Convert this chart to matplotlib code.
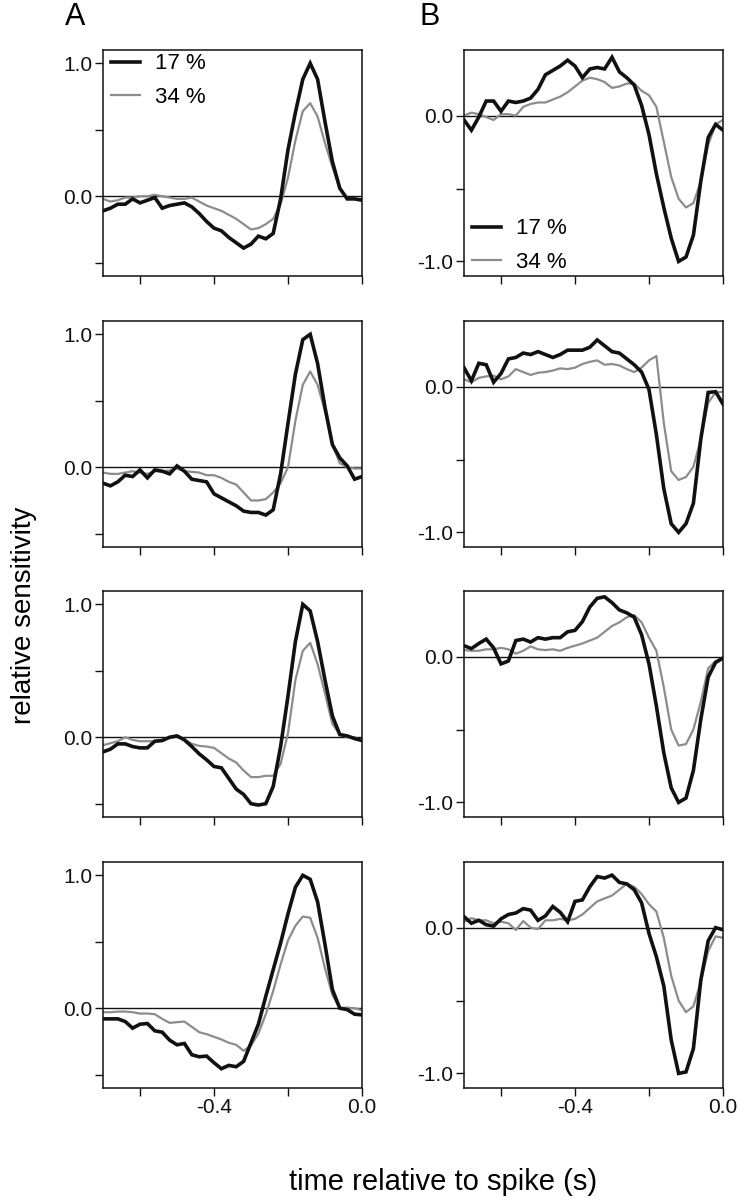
import numpy as np
import matplotlib
matplotlib.use('Agg')
import matplotlib.pyplot as plt

plt.rcParams['font.family'] = ['Liberation Sans', 'DejaVu Sans']

# time axis (s), 20 ms bins
t = np.round(np.arange(36) * 0.02 - 0.70, 2)

# column A (ON-type), rows 1-4
a1_17 = [-0.11, -0.09, -0.06, -0.06, -0.02, -0.05, -0.03, -0.01, -0.09, -0.07, -0.06, -0.05,
         -0.08, -0.13, -0.19, -0.24, -0.26, -0.31, -0.35, -0.39, -0.36, -0.30, -0.32, -0.28,
         -0.02, 0.35, 0.63, 0.88, 1.00, 0.88, 0.56, 0.26, 0.06, -0.02, -0.02, -0.03]
a1_34 = [-0.02, -0.04, -0.03, -0.01, -0.01, 0.00, 0.00, 0.01, 0.00, -0.01, -0.02, -0.02,
         -0.01, -0.04, -0.07, -0.09, -0.11, -0.14, -0.17, -0.21, -0.25, -0.24, -0.21, -0.17,
         -0.06, 0.14, 0.42, 0.64, 0.70, 0.60, 0.40, 0.22, 0.06, -0.02, -0.02, -0.02]
a2_17 = [-0.12, -0.14, -0.11, -0.06, -0.07, -0.02, -0.08, -0.02, -0.03, -0.05, 0.01, -0.03,
         -0.09, -0.10, -0.11, -0.20, -0.23, -0.26, -0.29, -0.33, -0.34, -0.34, -0.36, -0.32,
         -0.05, 0.33, 0.70, 0.96, 1.00, 0.78, 0.45, 0.17, 0.07, 0.01, -0.09, -0.07]
a2_34 = [-0.04, -0.05, -0.05, -0.04, -0.03, -0.04, -0.05, -0.03, -0.03, -0.025, -0.01, -0.03,
         -0.035, -0.04, -0.06, -0.06, -0.08, -0.11, -0.13, -0.19, -0.25, -0.25, -0.24, -0.19,
         -0.12, 0.00, 0.35, 0.62, 0.72, 0.62, 0.42, 0.17, 0.03, 0.00, -0.01, -0.01]
a3_17 = [-0.11, -0.09, -0.05, -0.05, -0.07, -0.08, -0.08, -0.03, -0.025, 0.00, 0.01, -0.02,
         -0.07, -0.125, -0.17, -0.22, -0.23, -0.31, -0.39, -0.43, -0.50, -0.51, -0.50, -0.37,
         -0.07, 0.31, 0.72, 1.00, 0.95, 0.72, 0.43, 0.16, 0.02, 0.01, -0.01, -0.025]
a3_34 = [-0.06, -0.045, -0.03, 0.00, -0.02, -0.03, -0.03, -0.03, -0.02, -0.005, 0.01, -0.015,
         -0.05, -0.065, -0.07, -0.08, -0.12, -0.16, -0.19, -0.25, -0.30, -0.30, -0.29, -0.29,
         -0.20, 0.03, 0.43, 0.65, 0.71, 0.55, 0.33, 0.10, 0.02, 0.00, 0.00, -0.025]
a4_17 = [-0.08, -0.08, -0.08, -0.10, -0.15, -0.12, -0.115, -0.17, -0.18, -0.24, -0.275, -0.265,
         -0.35, -0.365, -0.36, -0.41, -0.455, -0.43, -0.44, -0.40, -0.26, -0.12, 0.09, 0.29,
         0.49, 0.71, 0.91, 1.00, 0.97, 0.80, 0.48, 0.14, 0.00, -0.01, -0.045, -0.05]
a4_34 = [-0.03, -0.03, -0.025, -0.025, -0.03, -0.04, -0.04, -0.045, -0.08, -0.11, -0.105, -0.10,
         -0.14, -0.18, -0.195, -0.215, -0.235, -0.26, -0.275, -0.32, -0.28, -0.19, -0.045, 0.13,
         0.33, 0.51, 0.62, 0.69, 0.68, 0.53, 0.30, 0.10, 0.00, 0.005, 0.00, -0.015]

# column B (OFF-type), rows 1-4
b1_17 = [-0.03, -0.10, -0.01, 0.10, 0.10, 0.03, 0.10, 0.09, 0.10, 0.12, 0.18, 0.28,
         0.31, 0.34, 0.38, 0.34, 0.26, 0.32, 0.33, 0.32, 0.40, 0.30, 0.26, 0.21,
         0.07, -0.13, -0.40, -0.63, -0.84, -1.00, -0.97, -0.82, -0.45, -0.15, -0.06, -0.10]
b1_34 = [0.00, 0.02, 0.01, -0.01, -0.03, 0.01, 0.01, 0.00, 0.06, 0.08, 0.09, 0.09,
         0.11, 0.13, 0.16, 0.20, 0.24, 0.26, 0.25, 0.23, 0.19, 0.20, 0.22, 0.22,
         0.17, 0.14, 0.06, -0.18, -0.42, -0.57, -0.63, -0.60, -0.45, -0.20, -0.06, -0.03]
b2_17 = [0.13, 0.04, 0.16, 0.15, 0.03, 0.09, 0.19, 0.20, 0.23, 0.22, 0.24, 0.22,
         0.20, 0.22, 0.25, 0.25, 0.25, 0.27, 0.32, 0.28, 0.24, 0.23, 0.19, 0.15,
         0.10, -0.02, -0.33, -0.70, -0.94, -1.00, -0.94, -0.80, -0.36, -0.04, -0.035, -0.12]
b2_34 = [0.05, 0.03, 0.06, 0.07, 0.075, 0.05, 0.07, 0.12, 0.10, 0.08, 0.095, 0.10,
         0.11, 0.125, 0.12, 0.13, 0.155, 0.17, 0.18, 0.15, 0.155, 0.145, 0.12, 0.10,
         0.13, 0.18, 0.21, -0.25, -0.58, -0.64, -0.62, -0.55, -0.36, -0.11, -0.04, -0.035]
b3_17 = [0.075, 0.055, 0.09, 0.12, 0.06, -0.05, -0.03, 0.11, 0.12, 0.10, 0.13, 0.12,
         0.13, 0.13, 0.17, 0.18, 0.24, 0.34, 0.40, 0.41, 0.37, 0.32, 0.30, 0.27,
         0.15, -0.05, -0.34, -0.66, -0.90, -1.00, -0.97, -0.78, -0.43, -0.14, -0.04, -0.01]
b3_34 = [0.045, 0.04, 0.04, 0.05, 0.05, 0.06, 0.05, 0.02, 0.04, 0.07, 0.05, 0.045,
         0.05, 0.04, 0.06, 0.075, 0.09, 0.11, 0.13, 0.17, 0.21, 0.235, 0.27, 0.285,
         0.235, 0.13, 0.04, -0.21, -0.50, -0.61, -0.60, -0.50, -0.31, -0.08, -0.03, -0.01]
b4_17 = [0.075, 0.03, 0.05, 0.02, 0.01, 0.06, 0.09, 0.10, 0.13, 0.12, 0.05, 0.08,
         0.145, 0.105, 0.04, 0.18, 0.19, 0.28, 0.35, 0.34, 0.36, 0.31, 0.30, 0.26,
         0.17, -0.04, -0.20, -0.40, -0.77, -1.00, -0.99, -0.83, -0.36, -0.09, 0.00, -0.015]
b4_34 = [0.04, 0.065, 0.05, 0.05, 0.03, 0.04, 0.03, -0.016, 0.045, 0.00, -0.01, 0.05,
         0.05, 0.06, 0.05, 0.06, 0.09, 0.135, 0.18, 0.20, 0.22, 0.26, 0.30, 0.28,
         0.23, 0.16, 0.11, -0.07, -0.33, -0.50, -0.58, -0.54, -0.37, -0.16, -0.06, -0.07]

col_a = [(a1_17, a1_34), (a2_17, a2_34), (a3_17, a3_34), (a4_17, a4_34)]
col_b = [(b1_17, b1_34), (b2_17, b2_34), (b3_17, b3_34), (b4_17, b4_34)]
labels = ['17 %', '34 %']

BLACK = '#111111'
GREY = '#8c8c8c'

fig = plt.figure(figsize=(7.4, 12), dpi=100)

W, H = 740, 1200
row_tops = [50, 321, 591, 862]
ax_h = 226
ax_w = 259


def style_axes(ax, bottom_row, col):
    ax.axhline(0, color=BLACK, lw=1.0, zorder=1)
    ax.set_xlim(-0.70, 0.0)
    ax.set_xticks([-0.6, -0.4, -0.2, 0.0])
    if bottom_row:
        ax.set_xticklabels(['', '-0.4', '', '0.0'])
    else:
        ax.set_xticklabels(['', '', '', ''])
    if col == 'A':
        ax.set_ylim(-0.6, 1.1)
        ax.set_yticks([-0.5, 0.0, 0.5, 1.0])
        ax.set_yticklabels(['', '0.0', '', '1.0'])
    else:
        ax.set_ylim(-1.1, 0.45)
        ax.set_yticks([-1.0, -0.5, 0.0])
        ax.set_yticklabels(['-1.0', '', '0.0'])
    ax.tick_params(direction='out', length=5.5, width=1.0, labelsize=15, pad=2,
                   colors=BLACK)
    for sp in ax.spines.values():
        sp.set_linewidth(1.1)
        sp.set_color(BLACK)


leg_kw = dict(frameon=False, fontsize=16, handlelength=1.3, handletextpad=0.7,
              labelspacing=0.55, borderpad=0, borderaxespad=0)

for col, lefts, data in [('A', 103, col_a), ('B', 464, col_b)]:
    for i, (y17, y34) in enumerate(data):
        top = row_tops[i]
        ax = fig.add_axes([lefts / W, 1 - (top + ax_h) / H, ax_w / W, ax_h / H])
        ax.plot(t, y34, color=GREY, lw=1.6, label=labels[1], zorder=2)
        ax.plot(t, y17, color=BLACK, lw=2.6, label=labels[0], zorder=3,
                solid_joinstyle='miter')
        style_axes(ax, i == 3, col)
        if i == 0:
            h, l = ax.get_legend_handles_labels()
            h, l = h[::-1], l[::-1]
            if col == 'A':
                ax.legend(h, l, loc='upper left', bbox_to_anchor=(0.03, 0.985), **leg_kw)
            else:
                ax.legend(h, l, loc='lower left', bbox_to_anchor=(0.03, 0.015), **leg_kw)

fig.text(65 / W, 1 - 25 / H, 'A', fontsize=22, ha='left', va='baseline')
fig.text(419 / W, 1 - 25 / H, 'B', fontsize=22, ha='left', va='baseline')
fig.text(24 / W, 1 - 615 / H, 'relative sensitivity', fontsize=20, rotation=90,
         ha='center', va='center')
fig.text(443 / W, 1 - 1190 / H, 'time relative to spike (s)', fontsize=21,
         ha='center', va='baseline')

fig.savefig('out.png', dpi=100, facecolor='white')
